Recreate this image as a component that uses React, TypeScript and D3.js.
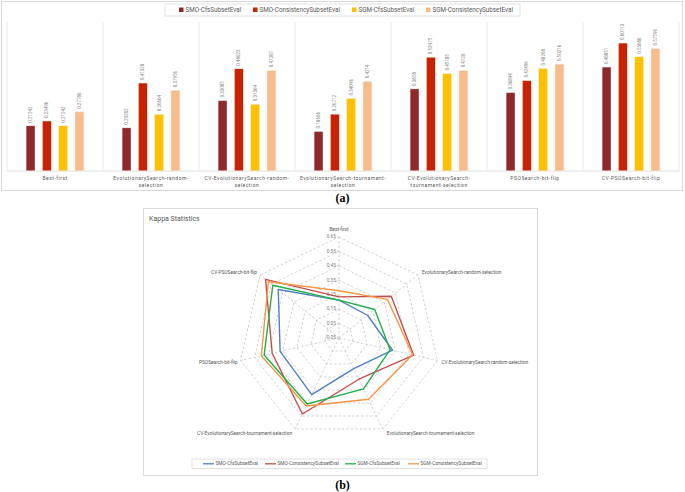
import React from "react";
import * as d3 from "d3";

const categories = [
  "Best-first",
  "EvolutionarySearch-random-selection",
  "CV-EvolutionarySearch-random-selection",
  "EvolutionarySearch-tournament-selection",
  "CV-EvolutionarySearch-tournament-selection",
  "PSOSearch-bit-flip",
  "CV-PSOSearch-bit-flip",
];
const categoryTickLines = [
  ["Best-first"],
  ["EvolutionarySearch-random-", "selection"],
  ["CV-EvolutionarySearch-random-", "selection"],
  ["EvolutionarySearch-tournament-", "selection"],
  ["CV-EvolutionarySearch-", "tournament-selection"],
  ["PSOSearch-bit-flip"],
  ["CV-PSOSearch-bit-flip"],
];
const seriesNames = [
  "SMO-CfsSubsetEval",
  "SMO-ConsistencySubsetEval",
  "SGM-CfsSubsetEval",
  "SGM-ConsistencySubsetEval",
];
const smoCfs = [0.21242, 0.20282, 0.33085, 0.18606, 0.3858, 0.36844, 0.48851];
const smoCons = [0.23496, 0.41328, 0.48023, 0.26712, 0.53475, 0.42496, 0.60113];
const sgmCfs = [0.21242, 0.26664, 0.31364, 0.34096, 0.45785, 0.48208, 0.53686];
const sgmCons = [0.27786, 0.37956, 0.47307, 0.4214, 0.4728, 0.50216, 0.57596];
const radarTicks = [-0.05, 0.05, 0.15, 0.25, 0.35, 0.45, 0.55, 0.65];

const seriesValues = [smoCfs, smoCons, sgmCfs, sgmCons];
const barColors = ["#8E2A2A", "#C92200", "#FFC000", "#F8BC8A"];
const lineColors = ["#4F7FC4", "#C0504D", "#21B04B", "#F79646"];
const FONT = "Roboto, 'Open Sans', sans-serif";

export default function App() {
  // ---------- Bar chart (a) ----------
  const x = d3.scaleBand<string>().domain(categories).range([7, 679]).padding(0);
  const xi = d3
    .scaleBand<string>()
    .domain(seriesNames)
    .range([-32.6, 32.6])
    .paddingInner(0.45)
    .paddingOuter(0.225);
  const y = d3.scaleLinear().domain([0, 0.7]).range([171, 22]);

  const bars: JSX.Element[] = [];
  const valueLabels: JSX.Element[] = [];
  categories.forEach((c, ci) => {
    const cx = (x(c) as number) + x.bandwidth() / 2;
    seriesNames.forEach((s, si) => {
      const v = seriesValues[si][ci];
      const bx = cx + (xi(s) as number);
      bars.push(
        <rect
          key={`b-${ci}-${si}`}
          x={bx}
          y={y(v)}
          width={xi.bandwidth()}
          height={y(0) - y(v)}
          fill={barColors[si]}
          stroke="#f2f2f2"
          strokeWidth={0.5}
        />
      );
      const lx = bx + xi.bandwidth() / 2 + 1.5;
      const ly = y(v) - 3;
      valueLabels.push(
        <text
          key={`v-${ci}-${si}`}
          transform={`translate(${lx},${ly}) rotate(-90)`}
          fontSize={4.5}
          fill="#8c8c8c"
          fontFamily={FONT}
        >
          {String(v)}
        </text>
      );
    });
  });

  // ---------- Radar chart (b) ----------
  const rcx = 339;
  const rcy = 338;
  const r = d3.scaleLinear().domain([-0.05, 0.65]).range([0, 101]);
  const n = categories.length;
  const ang = (i: number) => (i * 2 * Math.PI) / n;
  const pt = (i: number, v: number): [number, number] => [
    rcx + r(v) * Math.sin(ang(i)),
    rcy - r(v) * Math.cos(ang(i)),
  ];
  const lineGen = d3.line<[number, number]>().curve(d3.curveLinearClosed);

  const rings = radarTicks.slice(1).map((t) => (
    <path
      key={`ring-${t}`}
      d={lineGen(categories.map((_, i) => pt(i, t))) as string}
      fill="none"
      stroke="#bfbfbf"
      strokeWidth={0.7}
      strokeDasharray="2.5,2"
    />
  ));
  const spokes = categories.map((_, i) => {
    const [ex, ey] = pt(i, 0.65);
    return (
      <line
        key={`sp-${i}`}
        x1={rcx}
        y1={rcy}
        x2={ex}
        y2={ey}
        stroke="#bfbfbf"
        strokeWidth={0.7}
        strokeDasharray="2.5,2"
      />
    );
  });
  const axisLabels = categories.map((c, i) => {
    const [ex, ey] = pt(i, 0.65);
    const s = Math.sin(ang(i));
    const co = Math.cos(ang(i));
    let anchor = "middle";
    let tx = ex;
    if (s > 0.01) {
      anchor = "start";
      tx = ex + 4;
    } else if (s < -0.01) {
      anchor = "end";
      tx = ex - 3;
    }
    let ty = ey;
    if (Math.abs(s) < 0.01) ty = ey - 7;
    else if (co > 0) ty = ey - 2;
    else if (co < -0.5) ty = ey + 5;
    else ty = ey + 2;
    return (
      <text
        key={`al-${i}`}
        x={tx}
        y={ty}
        textAnchor={anchor}
        dominantBaseline="middle"
        fontSize={4.8}
        fill="#595959"
        fontFamily={FONT}
      >
        {c}
      </text>
    );
  });
  const tickLabels = radarTicks.map((t) => {
    const [, ty] = pt(0, t);
    return (
      <g key={`tk-${t}`}>
        <line x1={rcx - 2} x2={rcx} y1={ty} y2={ty} stroke="#bfbfbf" strokeWidth={0.6} />
        <text
          x={rcx - 3}
          y={ty}
          textAnchor="end"
          dominantBaseline="middle"
          fontSize={4.8}
          fill="#7f7f7f"
          fontFamily={FONT}
        >
          {t.toFixed(2)}
        </text>
      </g>
    );
  });
  const seriesPaths = seriesValues.map((vals, si) => (
    <path
      key={`sp-${si}`}
      d={lineGen(vals.map((v, i) => pt(i, v))) as string}
      fill="none"
      stroke={lineColors[si]}
      strokeWidth={1.4}
      strokeLinejoin="round"
    />
  ));

  const topLegendX = [179, 253, 352, 426];
  const radarLegendX = [203, 265, 345, 408];

  return (
    <svg
      width={685}
      height={492}
      style={{ position: "absolute", left: 0, top: 0, display: "block", background: "#fff" }}
    >
      {/* Panel (a) */}
      <rect x={1.5} y={1.5} width={681} height={189} fill="#fff" stroke="#d9d9d9" strokeWidth={1} />
      {/* legend */}
      <rect x={165} y={4} width={355} height={12} fill="#fff" stroke="#d9d9d9" strokeWidth={0.8} />
      {seriesNames.map((s, si) => (
        <g key={`lg-${si}`}>
          <rect x={topLegendX[si]} y={7.5} width={4.5} height={4.5} fill={barColors[si]} />
          <text
            x={topLegendX[si] + 6.5}
            y={10}
            dominantBaseline="middle"
            fontSize={6.3}
            fill="#595959"
            fontFamily={FONT}
          >
            {s}
          </text>
        </g>
      ))}
      {/* separators */}
      {categories.map((c) => (
        <line
          key={`sep-${c}`}
          x1={x(c) as number}
          x2={x(c) as number}
          y1={22}
          y2={171}
          stroke="#e3e3e3"
          strokeWidth={0.8}
        />
      ))}
      <line x1={679} x2={679} y1={22} y2={171} stroke="#e3e3e3" strokeWidth={0.8} />
      {bars}
      <line x1={7} x2={679} y1={171} y2={171} stroke="#d9d9d9" strokeWidth={0.8} />
      {valueLabels}
      {categories.map((c, ci) => {
        const cx = (x(c) as number) + x.bandwidth() / 2;
        return categoryTickLines[ci].map((ln, li) => (
          <text
            key={`ct-${ci}-${li}`}
            x={cx}
            y={179 + li * 6.3}
            textAnchor="middle"
            dominantBaseline="middle"
            fontSize={5}
            letterSpacing={0.5}
            fill="#595959"
            fontFamily={FONT}
          >
            {ln}
          </text>
        ));
      })}
      <text x={342.5} y={202} textAnchor="middle" fontSize={12} fontWeight="bold" fontFamily="'Liberation Serif', 'Times New Roman', serif" fill="#000">
        (a)
      </text>

      {/* Panel (b) */}
      <rect x={143.5} y={208.5} width={394} height={267} fill="#fff" stroke="#d9d9d9" strokeWidth={1} />
      <text x={149} y={219} dominantBaseline="middle" fontSize={7} fill="#595959" fontFamily={FONT}>
        Kappa Statistics
      </text>
      {rings}
      {spokes}
      {tickLabels}
      {axisLabels}
      {seriesPaths}
      <rect x={192} y={459} width={295} height={9.5} fill="#fff" stroke="#d9d9d9" strokeWidth={0.8} />
      {seriesNames.map((s, si) => (
        <g key={`rl-${si}`}>
          <line
            x1={radarLegendX[si]}
            x2={radarLegendX[si] + 11}
            y1={463.8}
            y2={463.8}
            stroke={lineColors[si]}
            strokeWidth={1.3}
          />
          <text
            x={radarLegendX[si] + 12.5}
            y={464}
            dominantBaseline="middle"
            fontSize={4.8}
            fill="#595959"
            fontFamily={FONT}
          >
            {s}
          </text>
        </g>
      ))}
      <text x={342.5} y={489} textAnchor="middle" fontSize={12} fontWeight="bold" fontFamily="'Liberation Serif', 'Times New Roman', serif" fill="#000">
        (b)
      </text>
    </svg>
  );
}
